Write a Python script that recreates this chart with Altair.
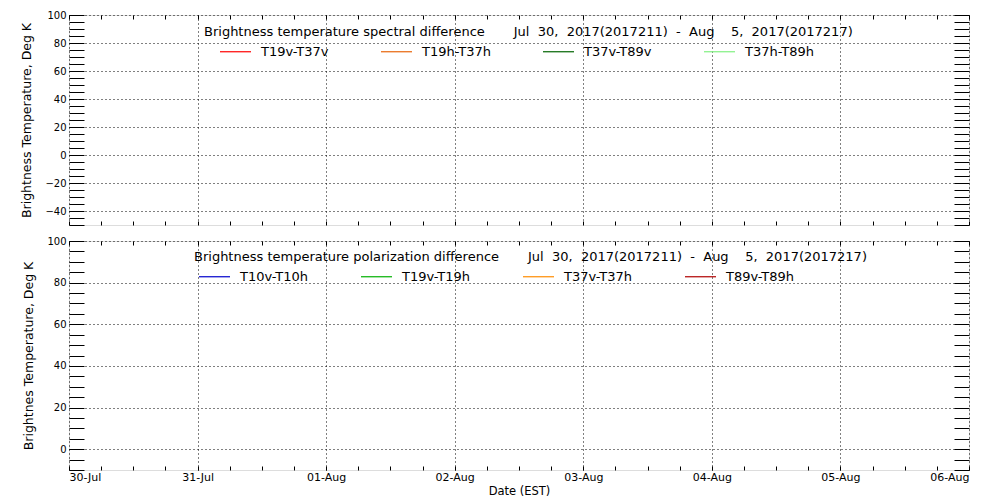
import altair as alt
import pandas as pd

# ---------------- data ----------------
DAYS = ["2017-07-30", "2017-07-31", "2017-08-01", "2017-08-02",
        "2017-08-03", "2017-08-04", "2017-08-05", "2017-08-06"]
TICK_HOURS = [0, 6, 12, 18]

SP = "\u2007"          # wide space, like the original plotting font
GAP = "\u00a0" * 7

SPEC_SERIES = ["T19v-T37v", "T19h-T37h", "T37v-T89v", "T37h-T89h"]
SPEC_COLORS = ["#ff0000", "#e8650a", "#006400", "#80f080"]
SPEC_VALUES = [None, None, None, None]          # no valid samples in this period
SPEC_Y_DOMAIN = [-50, 100]
SPEC_TITLE = ("Brightness temperature spectral difference" + GAP +
              f"Jul{SP}30,{SP}2017(2017211){SP}-{SP}Aug{SP}{SP}5,{SP}2017(2017217)")
SPEC_YTITLE = "Brightness Temperature, Deg K"

POL_SERIES = ["T10v-T10h", "T19v-T19h", "T37v-T37h", "T89v-T89h"]
POL_COLORS = ["#0000cc", "#00b000", "#ff8c00", "#b00000"]
POL_VALUES = [None, None, None, None]
POL_Y_DOMAIN = [-10, 100]
POL_TITLE = ("Brightness temperature polarization difference" + GAP +
             f"Jul{SP}30,{SP}2017(2017211){SP}-{SP}Aug{SP}{SP}5,{SP}2017(2017217)")
POL_YTITLE = "Brightnes Temperature, Deg K"

FONT = "DejaVu Sans"


def dt(day, hour=0):
    y, m, d = (int(p) for p in day.split("-"))
    return alt.DateTime(year=y, month=m, date=d, hours=hour, utc=True)


X_TICKS = [dt(d, h) for d in DAYS[:-1] for h in TICK_HOURS] + [dt(DAYS[-1])]


def panel(series, colors, values, ydom, ytitle, title, title_dx, title_off,
          leg_x, leg_y, height, show_x):
    df = pd.DataFrame({"date": [DAYS[0] + "T00:00:00Z"] * len(series),
                       "value": values, "series": series})
    xscale = alt.Scale(type="utc", domain=[dt(DAYS[0]), dt(DAYS[-1])], nice=False)
    yscale = alt.Scale(domain=ydom, nice=False, zero=False)
    yticks = list(range(ydom[0], ydom[1] + 1, 5))

    bottom_kw = dict(
        orient="bottom", values=X_TICKS, offset=-4, tickSize=4, tickColor="black",
        domain=False, grid=True, gridColor="black", gridDash=[1, 3], gridWidth=1,
        gridOpacity={"condition": {"test": "utchours(datum.value) == 0", "value": 1},
                     "value": 0},
        labels=show_x, labelOverlap=False, labelPadding=1, labelFontSize=11,
        labelFont=FONT, labelColor="black",
        labelExpr="utchours(datum.value) == 0 ? utcFormat(datum.value, '%d-%b') : ''",
        title="Date (EST)" if show_x else None,
        titleFontSize=11.5, titleFont=FONT, titleFontWeight="normal",
        titleColor="black", titlePadding=3,
    )
    left_axis = alt.Axis(
        orient="left", values=yticks, offset=-15, tickSize=15, tickColor="black",
        domain=False, grid=True, gridColor="black", gridDash=[1, 3], gridWidth=1,
        gridOpacity={"condition": {"test": "datum.value % 20 == 0", "value": 1},
                     "value": 0},
        labelExpr="datum.value % 20 == 0 ? datum.label : ''", labelOverlap=False,
        labelPadding=3, labelFontSize=10, labelFont=FONT, labelColor="black",
        title=ytitle, titleFontSize=12.5, titleFont=FONT, titleFontWeight="normal",
        titleColor="black", titlePadding=11,
    )
    top_axis = alt.Axis(orient="top", values=X_TICKS, offset=-4, tickSize=4,
                        tickColor="black", domain=False, grid=False, labels=False,
                        title=None)
    right_axis = alt.Axis(orient="right", values=yticks, offset=-15, tickSize=15,
                          tickColor="black", domain=False, grid=False, labels=False,
                          title=None)

    legend = alt.Legend(
        orient="none", legendX=leg_x, legendY=leg_y, direction="horizontal",
        columns=4, symbolType="stroke", symbolSize=961, symbolStrokeWidth=1.2,
        symbolOpacity=1, labelFontSize=13, labelFont=FONT, labelColor="black",
        labelOffset=9, columnPadding=49, title=None, padding=0,
    )

    base = alt.Chart(df).mark_line(strokeWidth=1).encode(
        x=alt.X("date:T", scale=xscale, axis=alt.Axis(**bottom_kw)),
        y=alt.Y("value:Q", scale=yscale, axis=left_axis),
        color=alt.Color("series:N", scale=alt.Scale(domain=series, range=colors),
                        legend=legend),
    )
    frame = alt.Chart(df).mark_line(strokeWidth=1).encode(
        x=alt.X("date:T", scale=xscale, axis=top_axis),
        y=alt.Y("value:Q", scale=yscale, axis=right_axis),
    )
    return alt.layer(base, frame).resolve_axis(
        x="independent", y="independent"
    ).properties(
        width=900, height=height,
        title=alt.TitleParams(text=title, anchor="start", orient="top", frame="group",
                              dx=title_dx, offset=title_off, fontSize=13, font=FONT,
                              fontWeight="normal", color="black"),
    )


top = panel(SPEC_SERIES, SPEC_COLORS, SPEC_VALUES, SPEC_Y_DOMAIN, SPEC_YTITLE,
            SPEC_TITLE, 135, -29, 150, 20, 210, False)
bottom = panel(POL_SERIES, POL_COLORS, POL_VALUES, POL_Y_DOMAIN, POL_YTITLE,
               POL_TITLE, 125, -28, 129, 19, 229, True)

chart = alt.vconcat(top, bottom, spacing=16, bounds="flush").resolve_scale(
    color="independent"
).properties(
    padding={"left": 12, "top": 1, "right": 5, "bottom": 2}
).configure_view(stroke="black", strokeWidth=1).configure(font=FONT, background="white")

chart.save("out.html", embed_options={"renderer": "svg", "actions": False})
